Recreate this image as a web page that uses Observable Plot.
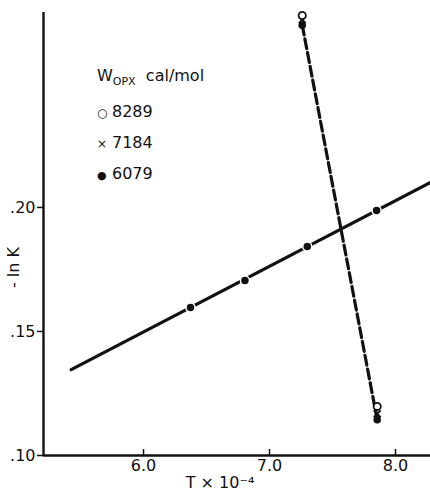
<!DOCTYPE html>
<html>
<head>
<meta charset="utf-8">
<script src="https://cdn.jsdelivr.net/npm/d3@7"></script>
<script src="https://cdn.jsdelivr.net/npm/@observablehq/plot@0.6"></script>
<style>
  html, body { margin: 0; padding: 0; background: #fff; }
  #wrap { position: relative; width: 430px; height: 501px; font-family: "DejaVu Sans", sans-serif; }
  #legend { position: absolute; left: 97px; top: 61px; font-size: 16px; color: #111; line-height: 30px; }
  #legend sub { font-size: 11px; vertical-align: -4px; }
  #legend .sym { display: inline-block; width: 15px; font-size: 12px; }
</style>
</head>
<body>
<div id="wrap">
  <div id="legend">
    <div>W<sub>OPX</sub>&nbsp; cal/mol</div>
    <div><span class="sym">○</span>8289</div>
    <div><span class="sym">×</span>7184</div>
    <div><span class="sym" style="font-size:11px">●</span>6079</div>
  </div>
</div>
<script>
// Solid line data (filled points) and its drawn extent
const solidX = [6.373, 6.805, 7.30, 7.85];
const solidY = [0.1597, 0.1706, 0.1843, 0.1988];
const solidLineX = [5.426, 8.278];
const solidLineY = [0.1346, 0.2101];

// Dashed line: points per W_OPX value at the two temperatures
const dashT = [7.26, 7.855];
const w8289 = [0.2774, 0.1198];
const w7184 = [0.2757, 0.1168];
const w6079 = [0.2735, 0.1144];

const xTicks = [6.0, 7.0, 8.0];
const yTicks = [0.10, 0.15, 0.20];
const xDomain = [5.206, 8.278];
const yDomain = [0.10, 0.2786];

const solidLine = solidLineX.map((x, i) => ({x, y: solidLineY[i]}));
const solidPts = solidX.map((x, i) => ({x, y: solidY[i]}));
const dashLine = dashT.map((x, i) => ({x, y: w6079[i]}));
const open = dashT.map((x, i) => ({x, y: w8289[i]}));
const cross = dashT.map((x, i) => ({x, y: w7184[i]}));
const filled = dashT.map((x, i) => ({x, y: w6079[i]}));

const chart = Plot.plot({
  width: 430,
  height: 501,
  marginLeft: 43,
  marginRight: 0,
  marginTop: 12,
  marginBottom: 46,
  style: { fontFamily: "DejaVu Sans, sans-serif", fontSize: "16px", color: "#111", background: "#fff" },
  x: { domain: xDomain },
  y: { domain: yDomain },
  marks: [
    Plot.ruleY([yDomain[0]], { stroke: "#111", strokeWidth: 2.4 }),
    Plot.ruleX([xDomain[0]], { stroke: "#111", strokeWidth: 2.4 }),
    Plot.axisX(xTicks, { tickSize: -6, tickFormat: d => d.toFixed(1), tickPadding: 10, stroke: "#111", strokeWidth: 1.5, fontSize: 16, label: null }),
    Plot.axisY(yTicks, { tickSize: 6, tickFormat: d => d.toFixed(2).replace(/^0/, ""), tickPadding: 2, stroke: "#111", strokeWidth: 1.5, fontSize: 16, label: null }),
    Plot.line(solidLine, { x: "x", y: "y", stroke: "#111", strokeWidth: 3.2 }),
    Plot.dot(solidPts, { x: "x", y: "y", r: 4.5, fill: "#111", stroke: "#fff", strokeWidth: 1.5 }),
    Plot.line(dashLine, { x: "x", y: "y", stroke: "#111", strokeWidth: 3.2, strokeDasharray: "10,4" }),
    Plot.dot(filled, { x: "x", y: "y", r: 3.8, fill: "#111" }),
    Plot.dot(cross, { x: "x", y: "y", r: 3.2, symbol: "times", stroke: "#111", strokeWidth: 2 }),
    Plot.dot(open, { x: "x", y: "y", r: 3.6, fill: "#fff", stroke: "#111", strokeWidth: 1.8 }),
    Plot.text(["T × 10⁻⁴"], { frameAnchor: "bottom", dx: -17, dy: 32, fontSize: 16 }),
    Plot.text(["- ln K"], { frameAnchor: "left", dx: -30, dy: 54, rotate: -90, fontSize: 16 })
  ]
});
document.getElementById("wrap").prepend(chart);
</script>
</body>
</html>
